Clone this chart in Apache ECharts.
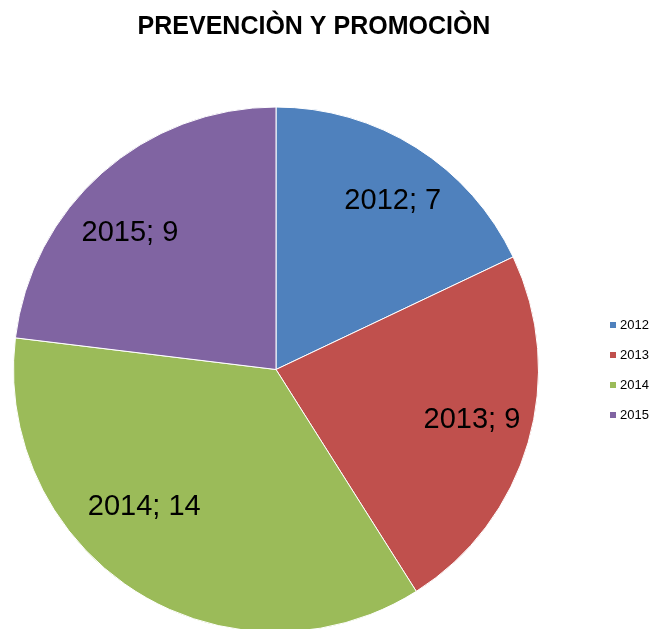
<!DOCTYPE html>
<html>
<head>
<meta charset="utf-8">
<script src="https://cdn.jsdelivr.net/npm/echarts@6/dist/echarts.min.js"></script>
<style>
  html, body { margin: 0; padding: 0; background: #fff; }
  #chart { width: 655px; height: 629px; }
</style>
</head>
<body>
<div id="chart"></div>
<script>
var categories = ['2012', '2013', '2014', '2015']
var values = [7, 9, 14, 9]
var colors = ['#4F81BD', '#C0504D', '#9BBB59', '#8064A2']
// nudges so labels sit where the original put them
var labelOffsets = [[45, -55], [67, 13], [-60, 24], [-57, -36]]

var chart = echarts.init(document.getElementById('chart'))

var pieData = categories.map(function (name, i) {
  return {
    name: name,
    value: values[i],
    itemStyle: { color: colors[i] },
    label: { offset: labelOffsets[i] }
  }
})

chart.setOption({
  animation: false,
  textStyle: { fontFamily: 'Liberation Sans' },
  title: {
    text: 'PREVENCIÒN Y PROMOCIÒN',
    left: 309,
    textAlign: 'center',
    top: 10,
    textStyle: {
      fontFamily: 'Liberation Sans',
      fontSize: 25,
      fontWeight: 'bold',
      color: '#000'
    }
  },
  legend: {
    orient: 'vertical',
    left: 603,
    top: 313,
    itemWidth: 8,
    itemHeight: 8,
    itemGap: 16,
    icon: 'rect',
    data: categories,
    textStyle: {
      fontFamily: 'Liberation Sans',
      fontSize: 13,
      lineHeight: 14,
      color: '#000',
      padding: [0, 0, 0, -2]
    }
  },
  series: [{
    type: 'pie',
    center: [276, 369.5],
    radius: [0, 262.5],
    startAngle: 90,
    clockwise: true,
    silent: true,
    itemStyle: {
      borderColor: '#fff',
      borderWidth: 1
    },
    label: {
      show: true,
      position: 'inside',
      formatter: '{b}; {c}',
      fontFamily: 'Liberation Sans',
      fontSize: 29,
      color: '#000'
    },
    labelLine: { show: false },
    data: pieData
  }]
})
</script>
</body>
</html>
